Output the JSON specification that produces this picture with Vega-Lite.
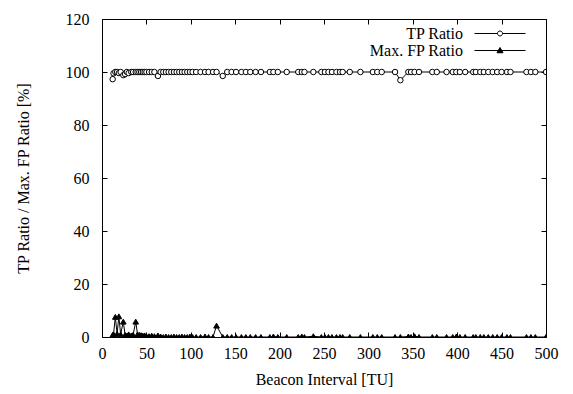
{
  "$schema": "https://vega.github.io/schema/vega-lite/v6.json",
  "autosize": {"type": "none"},
  "width": 444,
  "height": 318,
  "padding": {"left": 102, "top": 19, "right": 27, "bottom": 57},
  "config": {
    "view": {"stroke": "black", "strokeWidth": 1},
    "font": "Liberation Serif",
    "axis": {"grid": false, "domain": false, "tickColor": "black", "tickSize": -5, "tickWidth": 1, "labelFlush": false, "labelFont": "Liberation Serif", "labelFontSize": 16, "labelColor": "black", "titleFont": "Liberation Serif", "titleFontSize": 16, "titleFontWeight": "normal", "titleColor": "black"},
    "legend": {"labelFont": "Liberation Serif", "labelFontSize": 16, "labelColor": "black", "padding": 0, "symbolSize": 100, "symbolStrokeWidth": 1, "symbolOpacity": 1, "labelAlign": "right", "labelOffset": -45}
  },
  "data": {"values": [
    {"x": 12, "tp": 97.3, "fp": 0.8},
    {"x": 13, "tp": 99.5, "fp": 1.0},
    {"x": 15, "tp": 100, "fp": 7.6},
    {"x": 17, "tp": 100, "fp": 1.2},
    {"x": 19, "tp": 99.6, "fp": 7.8},
    {"x": 21, "tp": 100, "fp": 1.0},
    {"x": 24, "tp": 98.8, "fp": 5.8},
    {"x": 26, "tp": 99.2, "fp": 0.8},
    {"x": 28, "tp": 100, "fp": 0.5},
    {"x": 30, "tp": 99.6, "fp": 1.0},
    {"x": 33, "tp": 100, "fp": 0.6},
    {"x": 35, "tp": 100, "fp": 0.8},
    {"x": 38, "tp": 100, "fp": 5.8},
    {"x": 40, "tp": 100, "fp": 1.0},
    {"x": 42, "tp": 100, "fp": 0.8},
    {"x": 44, "tp": 100, "fp": 0.7},
    {"x": 46, "tp": 100, "fp": 0.5},
    {"x": 48, "tp": 100, "fp": 0.6},
    {"x": 50, "tp": 100, "fp": 0.4},
    {"x": 53, "tp": 100, "fp": 0.3},
    {"x": 56, "tp": 100, "fp": 0.5},
    {"x": 59, "tp": 100, "fp": 0.3},
    {"x": 63, "tp": 98.5, "fp": 0.6},
    {"x": 66, "tp": 100, "fp": 0.2},
    {"x": 69, "tp": 100, "fp": 0},
    {"x": 72, "tp": 100, "fp": 0.2},
    {"x": 75, "tp": 100, "fp": 0},
    {"x": 78, "tp": 100, "fp": 0},
    {"x": 81, "tp": 100, "fp": 0.2},
    {"x": 84, "tp": 100, "fp": 0},
    {"x": 87, "tp": 100, "fp": 0},
    {"x": 90, "tp": 100, "fp": 0.2},
    {"x": 93, "tp": 100, "fp": 0},
    {"x": 96, "tp": 100, "fp": 0},
    {"x": 99, "tp": 100, "fp": 0.2},
    {"x": 102, "tp": 100, "fp": 0},
    {"x": 106, "tp": 100, "fp": 0},
    {"x": 111, "tp": 100, "fp": 0},
    {"x": 116, "tp": 100, "fp": 0.2},
    {"x": 120, "tp": 100, "fp": 0},
    {"x": 125, "tp": 100, "fp": 0},
    {"x": 129, "tp": 100, "fp": 4.3},
    {"x": 136, "tp": 98.5, "fp": 0},
    {"x": 141, "tp": 100, "fp": 0},
    {"x": 146, "tp": 100, "fp": 0},
    {"x": 151, "tp": 100, "fp": 0},
    {"x": 157, "tp": 100, "fp": 0},
    {"x": 162, "tp": 100, "fp": 0},
    {"x": 167, "tp": 100, "fp": 0},
    {"x": 173, "tp": 100, "fp": 0},
    {"x": 179, "tp": 100, "fp": 0},
    {"x": 189, "tp": 100, "fp": 0},
    {"x": 193, "tp": 100, "fp": 0.2},
    {"x": 198, "tp": 100, "fp": 0},
    {"x": 208, "tp": 100, "fp": 0},
    {"x": 221, "tp": 100, "fp": 0},
    {"x": 225, "tp": 100, "fp": 0.2},
    {"x": 228, "tp": 100, "fp": 0},
    {"x": 238, "tp": 100, "fp": 0.3},
    {"x": 247, "tp": 100, "fp": 0},
    {"x": 251, "tp": 100, "fp": 0},
    {"x": 255, "tp": 100, "fp": 0},
    {"x": 259, "tp": 100, "fp": 0},
    {"x": 264, "tp": 100, "fp": 0},
    {"x": 268, "tp": 100, "fp": 0},
    {"x": 271, "tp": 100, "fp": 0},
    {"x": 279, "tp": 100, "fp": 0},
    {"x": 291, "tp": 100, "fp": 0},
    {"x": 305, "tp": 100, "fp": 0},
    {"x": 310, "tp": 100, "fp": 0},
    {"x": 315, "tp": 100, "fp": 0},
    {"x": 330, "tp": 100, "fp": 0},
    {"x": 336, "tp": 96.9, "fp": 0},
    {"x": 345, "tp": 100, "fp": 0.2},
    {"x": 348, "tp": 100, "fp": 0},
    {"x": 352, "tp": 100, "fp": 0.3},
    {"x": 357, "tp": 100, "fp": 0},
    {"x": 372, "tp": 100, "fp": 0},
    {"x": 377, "tp": 100, "fp": 0},
    {"x": 388, "tp": 100, "fp": 0},
    {"x": 395, "tp": 100, "fp": 0},
    {"x": 399, "tp": 100, "fp": 0.2},
    {"x": 403, "tp": 100, "fp": 0},
    {"x": 409, "tp": 100, "fp": 0},
    {"x": 418, "tp": 100, "fp": 0},
    {"x": 421, "tp": 100, "fp": 0},
    {"x": 426, "tp": 100, "fp": 0},
    {"x": 430, "tp": 100, "fp": 0},
    {"x": 435, "tp": 100, "fp": 0},
    {"x": 440, "tp": 100, "fp": 0},
    {"x": 445, "tp": 100, "fp": 0},
    {"x": 450, "tp": 100, "fp": 0},
    {"x": 456, "tp": 100, "fp": 0},
    {"x": 460, "tp": 100, "fp": 0},
    {"x": 478, "tp": 100, "fp": 0},
    {"x": 483, "tp": 100, "fp": 0},
    {"x": 488, "tp": 100, "fp": 0},
    {"x": 500, "tp": 100, "fp": 0}
  ]},
  "encoding": {
    "x": {"field": "x", "type": "quantitative", "scale": {"domain": [0, 500], "nice": false, "zero": false}}
  },
  "layer": [
    {
      "mark": {"type": "line", "color": "black", "strokeWidth": 1, "clip": true},
      "encoding": {
        "x": {"field": "x", "type": "quantitative", "axis": {"orient": "bottom", "values": [0,50,100,150,200,250,300,350,400,450,500], "labelPadding": 13, "title": "Beacon Interval [TU]", "titlePadding": 10}},
        "y": {"field": "tp", "type": "quantitative", "scale": {"domain": [0, 120], "nice": false}, "axis": {"orient": "left", "values": [0,20,40,60,80,100,120], "labelPadding": 18, "title": "TP Ratio / Max. FP Ratio [%]", "titlePadding": 34}}
      }
    },
    {
      "mark": {"type": "line", "color": "black", "strokeWidth": 1, "clip": true},
      "encoding": {
        "x": {"field": "x", "type": "quantitative", "axis": null},
        "y": {"field": "fp", "type": "quantitative", "axis": null}
      }
    },
    {
      "mark": {"type": "point", "shape": "circle", "size": 30, "fill": "white", "stroke": "black", "strokeWidth": 1, "opacity": 1, "fillOpacity": 1, "clip": true},
      "encoding": {
        "x": {"field": "x", "type": "quantitative", "axis": null},
        "y": {"field": "tp", "type": "quantitative", "axis": null},
        "color": {
          "datum": "TP Ratio",
          "scale": {"domain": ["TP Ratio"], "range": ["black"]},
          "legend": {
            "title": null,
            "orient": "none",
            "legendX": 390,
            "legendY": 6.5,
            "symbolType": "M-5.1,0H-0.5M0.5,0H5.1M-0.5,0A0.5,0.5,0,1,1,0.5,0A0.5,0.5,0,1,1,-0.5,0Z",
            "symbolFillColor": "white",
            "symbolStrokeColor": "black"
          }
        }
      }
    },
    {
      "mark": {"type": "point", "shape": "triangle-up", "size": 32, "fill": "black", "stroke": "black", "strokeWidth": 1, "opacity": 1, "fillOpacity": 1, "clip": true},
      "encoding": {
        "x": {"field": "x", "type": "quantitative", "axis": null},
        "y": {"field": "fp", "type": "quantitative", "axis": null},
        "color": {
          "datum": "Max. FP Ratio",
          "scale": {"domain": ["Max. FP Ratio"], "range": ["black"]},
          "legend": {
            "title": null,
            "orient": "none",
            "legendX": 390,
            "legendY": 23.5,
            "symbolType": "M-5.1,0H5.1M0,-0.6L0.6,0.45L-0.6,0.45Z",
            "symbolFillColor": "black",
            "symbolStrokeColor": "black"
          }
        }
      }
    },
    {
      "mark": {"type": "line", "opacity": 0},
      "encoding": {
        "x": {"field": "x", "type": "quantitative", "axis": {"orient": "top", "values": [0,50,100,150,200,250,300,350,400,450,500], "labels": false, "title": null}},
        "y": {"field": "fp", "type": "quantitative", "axis": {"orient": "right", "values": [0,20,40,60,80,100,120], "labels": false, "title": null}}
      }
    }
  ],
  "resolve": {"axis": {"x": "independent", "y": "independent"}, "scale": {"color": "independent"}}
}
